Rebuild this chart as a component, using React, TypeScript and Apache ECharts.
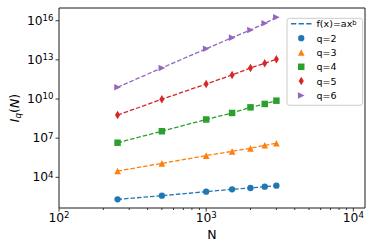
import React, { useEffect, useRef } from 'react';
import * as echarts from 'echarts';

// ---- data ----
const N_VALUES = [250, 500, 1000, 1500, 2000, 2500, 3000];
const Q_LABELS = ['q=2', 'q=3', 'q=4', 'q=5', 'q=6'];
const I_Q2 = [204, 389, 794, 1202, 1514, 1905, 2291];
const I_Q3 = [3.02e4, 1.17e5, 4.57e5, 9.77e5, 1.66e6, 2.82e6, 4.07e6];
const I_Q4 = [4.47e6, 3.39e7, 2.69e8, 8.51e8, 2.29e9, 4.17e9, 7.41e9];
const I_Q5 = [5.89e8, 9.55e9, 1.41e11, 6.92e11, 2.4e12, 5.5e12, 1.1e13];
const I_Q6 = [7.94e10, 2.4e12, 7.08e13, 5.01e14, 1.95e15, 6.31e15, 1.82e16];
const Q_SERIES = [I_Q2, I_Q3, I_Q4, I_Q5, I_Q6];
const FIT_NAME = 'f(x)=ax^b';

// ---- axes ----
const X_MIN = 100;
const X_MAX = 12000;
const Y_MIN = 44.4;
const Y_MAX = 9.4e16;
const X_MAJOR_TICKS = [100, 1000, 10000];
const X_MINOR_TICKS = [200, 300, 400, 500, 600, 700, 800, 900, 2000, 3000, 4000, 5000, 6000, 7000, 8000, 9000];
const Y_MAJOR_TICKS = [1e4, 1e7, 1e10, 1e13, 1e16];

const COLORS = ['#1f77b4', '#ff7f0e', '#2ca02c', '#d62728', '#9467bd'];
const SYMBOLS = [
  'path://M0,0M9,9M4.5,1.35A3.15,3.15,0,1,1,4.5,7.65A3.15,3.15,0,1,1,4.5,1.35Z',
  'path://M0,0M9,9M4.5,1.2L7.8,7.8L1.2,7.8Z',
  'path://M0,0M9,9M1.25,1.25L7.75,1.25L7.75,7.75L1.25,7.75Z',
  'path://M0,0M9,9M4.5,0.25L7.05,4.5L4.5,8.75L1.95,4.5Z',
  'path://M0,0M9,9M1.2,1.2L7.8,4.5L1.2,7.8Z',
];
const DASH_ICON = 'path://M0,0h5v1.3h-5zM7.2,0h5v1.3h-5zM14.4,0h5v1.3h-5z';
const FONT = 'DejaVu Sans';

function supLabel(v: number, shift: number): string {
  const e = Math.log10(v);
  const r = Math.round(e);
  if (Math.abs(e - r) > 1e-6) return '';
  return '{b|10}{s|' + (r + shift) + '}';
}

const labelRich = {
  b: { fontFamily: FONT, fontSize: 12.3, lineHeight: 14, color: '#000' },
  s: { fontFamily: FONT, fontSize: 8.6, lineHeight: 9, color: '#000', verticalAlign: 'top' },
};

export default function App() {
  const ref = useRef<HTMLDivElement>(null);
  useEffect(() => {
    if (!ref.current) return;
    const chart = echarts.init(ref.current, null, { renderer: 'svg' });
    const series: any[] = [];
    Q_SERIES.forEach((arr, k) => {
      series.push({
        type: 'line',
        name: FIT_NAME,
        data: N_VALUES.map((n, i) => [n, arr[i]]),
        symbol: 'none',
        showSymbol: false,
        silent: true,
        itemStyle: { color: COLORS[k] },
        lineStyle: { color: COLORS[k], width: 1.3, type: [4.5, 2] },
        z: 2,
      });
    });
    Q_SERIES.forEach((arr, k) => {
      series.push({
        type: 'scatter',
        name: Q_LABELS[k],
        data: N_VALUES.map((n, i) => [n, arr[i]]),
        symbol: SYMBOLS[k],
        symbolSize: 9,
        symbolKeepAspect: true,
        itemStyle: { color: COLORS[k], opacity: 1 },
        silent: true,
        z: 3,
      });
    });
    const tickData = [
      ...X_MAJOR_TICKS.map((v) => [v, Y_MIN, 0, 3.5]),
      ...X_MINOR_TICKS.map((v) => [v, Y_MIN, 0, 2]),
      ...Y_MAJOR_TICKS.map((v) => [X_MIN, v, 1, 3.5]),
    ];
    series.push({
      type: 'custom',
      name: 'ticks',
      silent: true,
      clip: false,
      z: 5,
      data: tickData,
      encode: { x: 0, y: 1 },
      renderItem: (params: any, api: any) => {
        const p = api.coord([api.value(0), api.value(1)]);
        const vertical = api.value(2) === 0;
        const len = api.value(3);
        return {
          type: 'line',
          shape: vertical
            ? { x1: p[0], y1: p[1], x2: p[0], y2: p[1] + len }
            : { x1: p[0] - len, y1: p[1], x2: p[0], y2: p[1] },
          style: { stroke: '#222', lineWidth: 0.9 },
        };
      },
    });

    chart.setOption({
      animation: false,
      grid: {
        left: 57,
        top: 8,
        right: 9,
        bottom: 40,
        show: true,
        borderColor: '#1a1a1a',
        borderWidth: 1,
        backgroundColor: 'transparent',
      },
      xAxis: {
        type: 'log',
        logBase: 10,
        min: X_MIN,
        max: X_MAX,
        name: 'N',
        nameLocation: 'middle',
        nameGap: 17,
        nameTextStyle: { fontFamily: FONT, fontSize: 12.5, color: '#000' },
        axisLine: { show: false },
        axisTick: { show: false },
        splitLine: { show: false },
        minorTick: { show: false },
        axisLabel: {
          margin: 2.5,
          formatter: (v: number) => supLabel(v, 0),
          rich: labelRich,
        },
      },
      yAxis: [
        {
          type: 'log',
          logBase: 10,
          min: Y_MIN,
          max: Y_MAX,
          position: 'left',
          name: '{i|I}{q|q}{p|(}{i|N}{p|)}',
          nameLocation: 'middle',
          nameRotate: 90,
          nameGap: 37,
          nameTextStyle: {
            fontFamily: FONT,
            fontSize: 12.5,
            color: '#000',
            rich: {
              i: { fontFamily: FONT, fontSize: 12.5, fontStyle: 'italic', lineHeight: 15, color: '#000' },
              p: { fontFamily: FONT, fontSize: 12.5, lineHeight: 15, color: '#000' },
              q: { fontFamily: FONT, fontSize: 8.8, fontStyle: 'italic', lineHeight: 11, color: '#000', verticalAlign: 'bottom' },
            },
          },
          axisLine: { show: false },
          axisTick: { show: false },
          axisLabel: { show: false },
          splitLine: { show: false },
        },
        {
          type: 'log',
          logBase: 1000,
          min: Y_MIN / 10,
          max: Y_MAX / 10,
          position: 'left',
          offset: 0,
          axisLine: { show: false },
          axisTick: { show: false },
          splitLine: { show: false },
          axisLabel: {
            margin: 5.5,
            formatter: (v: number) => {
              const e = Math.log10(v);
              const r = Math.round(e);
              if (Math.abs(e - r) > 1e-6 || r % 3 !== 0) return '';
              return '{b|10}{s|' + (r + 1) + '}';
            },
            rich: labelRich,
          },
        },
      ],
      legend: {
        data: [{ name: FIT_NAME, icon: DASH_ICON }, ...Q_LABELS],
        orient: 'vertical',
        left: 287,
        top: 18.3,
        itemWidth: 20.5,
        itemHeight: 9,
        itemGap: 4.33,
        padding: [0.5, 6, 4.8, 4],
        backgroundColor: 'rgba(255,255,255,0.8)',
        borderColor: '#cccccc',
        borderWidth: 1,
        borderRadius: 2.5,
        selectedMode: false,
        formatter: (name: string) => (name === FIT_NAME ? '{t|f(x)=ax}{u|b}' : name),
        textStyle: {
          fontFamily: FONT,
          fontSize: 9.5,
          lineHeight: 9,
          color: '#000',
          rich: {
            t: { fontFamily: FONT, fontSize: 9.5, lineHeight: 9, color: '#000' },
            u: { fontFamily: FONT, fontSize: 6.8, lineHeight: 6, color: '#000', verticalAlign: 'top' },
          },
        },
      },
      series,
    });
    return () => chart.dispose();
  }, []);
  return (
    <div
      ref={ref}
      style={{ position: 'fixed', left: 0, top: 0, width: 374, height: 248, background: '#fff' }}
    />
  );
}
